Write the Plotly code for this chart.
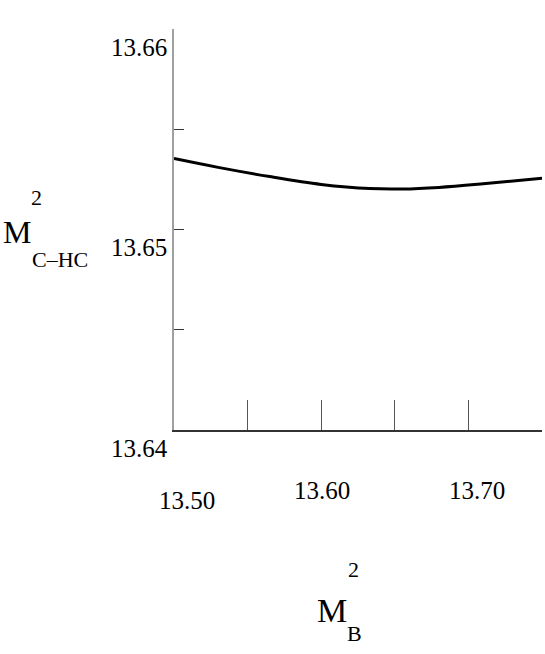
import plotly.graph_objects as go

# curve
mb2 = [13.50, 13.53, 13.565, 13.60, 13.633, 13.655, 13.68, 13.71, 13.75]
mchc2 = [13.65354, 13.65310, 13.65264, 13.65225, 13.65204, 13.65202, 13.65210, 13.65228, 13.65256]

y_tick_vals = [13.64, 13.645, 13.65, 13.655, 13.66]
y_tick_text = ["13.64", "", "13.65", "", "13.66"]
x_tick_vals = [13.50, 13.55, 13.60, 13.65, 13.70, 13.75]
x_label_vals = [13.50, 13.60, 13.70]
x_label_text = ["13.50", "13.60", "13.70"]

FONT = "Liberation Serif, Times New Roman, serif"
L, T, W, H = 174, 29, 368, 401


def px(x):
    return (x - L) / W


def py(y):
    return (T + H - y) / H


fig = go.Figure()
fig.add_trace(go.Scatter(x=mb2, y=mchc2, mode="lines", line=dict(color="black", width=3, shape="spline")))

fig.update_xaxes(range=[13.50, 13.75], tickvals=x_tick_vals, showticklabels=False,
                 ticks="inside", ticklen=30, tickcolor="#555", showline=True, linecolor="#333",
                 linewidth=2, showgrid=False, zeroline=False)
fig.update_yaxes(range=[13.64, 13.66], tickvals=y_tick_vals, ticktext=y_tick_text,
                 ticks="inside", ticklen=10, tickcolor="#333", showline=True, linecolor="#a0a0a0",
                 linewidth=1.5, showgrid=False, zeroline=False, ticklabelposition="outside bottom",
                 tickfont=dict(family=FONT, size=25, color="black"))

# x tick labels, staggered like the reference
for val, txt, dx, dy in zip(x_label_vals, x_label_text, [13, 1, 9], [86, 76, 76]):
    fig.add_annotation(x=val, y=0, xref="x", yref="paper", text=txt, showarrow=False,
                       xshift=dx, yshift=-dy, font=dict(family=FONT, size=25, color="black"))

# axis titles: M, superscript 2 and subscript stacked
labels = [
    ("M", 17, 232, 32), ("2", 36, 197, 22), ("C\u2013HC", 60, 259, 22),
    ("M", 332, 610, 34), ("2", 353, 569, 22), ("B", 354, 634, 22),
]
for txt, x, y, size in labels:
    fig.add_annotation(x=px(x), y=py(y), xref="paper", yref="paper", text=txt, showarrow=False,
                       xanchor="center", yanchor="middle", font=dict(family=FONT, size=size, color="black"))

fig.update_layout(width=545, height=654, margin=dict(l=L, r=545 - L - W, t=T, b=654 - T - H),
                  plot_bgcolor="white", paper_bgcolor="white", showlegend=False)

fig.write_html("out.html", config={"displayModeBar": False},
               post_script="document.body.style.margin = '0';")
